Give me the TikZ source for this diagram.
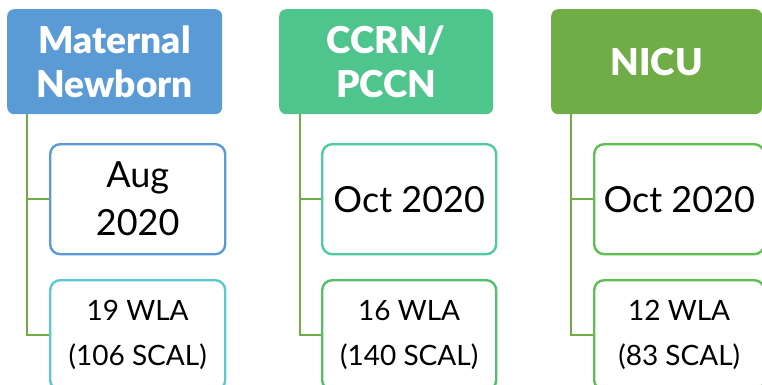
\documentclass[tikz,border=0pt]{standalone}
\usepackage{fontspec}
\setmainfont{Lato}
\newfontfamily\heavyfont{Lato Black}
\definecolor{hblue}{HTML}{5B9BD5}
\definecolor{hteal}{HTML}{4FC58E}
\definecolor{hgreen}{HTML}{70AD47}
\definecolor{bcyan}{HTML}{5BC8D4}
\definecolor{bteal}{HTML}{4DCBA2}
\definecolor{bgreen}{HTML}{52C068}
\definecolor{bgreen2}{HTML}{5CBF4E}
\definecolor{conncol}{HTML}{70AD47}
\tikzset{
  header/.style={rounded corners=7pt, inner sep=0pt, anchor=north west, align=center,
    text=white, font=\fontsize{37}{46}\selectfont\heavyfont, minimum height=105pt},
  datebox/.style={draw, line width=2.4pt, rounded corners=10pt, fill=white, inner sep=0pt,
    anchor=north west, align=center, minimum height=110pt, font=\fontsize{36}{48}\selectfont},
  countbox/.style={draw, line width=2.4pt, rounded corners=10pt, fill=white, inner sep=0pt,
    anchor=north west, align=center, minimum height=110pt, font=\fontsize{28}{45}\selectfont},
  conn/.style={draw=conncol, line width=2.4pt}
}
\begin{document}
\begin{tikzpicture}[x=1pt,y=1pt]
\useasboundingbox (0,0) rectangle (762,384);
% column 1
\node[header, fill=hblue, minimum width=215pt] (h1) at (7,375) {Maternal\\[-2pt]Newborn};
\node[datebox, draw=hblue, minimum width=175pt] (b1) at (49,241) {Aug\\2020};
\node[countbox, draw=bcyan, minimum width=175pt] (c1) at (49,105) {19 WLA\\(106 SCAL)};
% column 2
\node[header, fill=hteal, minimum width=214pt] (h2) at (279,375) {CCRN/\\[-2pt]PCCN};
\node[datebox, draw=bteal, minimum width=174pt] (b2) at (321,241) {Oct 2020};
\node[countbox, draw=bgreen, minimum width=174pt] (c2) at (321,105) {16 WLA\\(140 SCAL)};
% column 3
\node[header, fill=hgreen, minimum width=211pt] (h3) at (551,375) {NICU};
\node[datebox, draw=bgreen2, minimum width=170pt] (b3) at (593,241) {Oct 2020};
\node[countbox, draw=bgreen2, minimum width=170pt] (c3) at (593,105) {12 WLA\\(83 SCAL)};
% connectors
\coordinate (t1) at ([xshift=20pt]h1.south west);
\coordinate (t2) at ([xshift=21pt]h2.south west);
\coordinate (t3) at ([xshift=20pt]h3.south west);
\draw[conn] (t1) |- (b1.west);
\draw[conn] (t1) |- (c1.west);
\draw[conn] (t2) |- (b2.west);
\draw[conn] (t2) |- (c2.west);
\draw[conn] (t3) |- (b3.west);
\draw[conn] (t3) |- (c3.west);
\end{tikzpicture}
\end{document}
